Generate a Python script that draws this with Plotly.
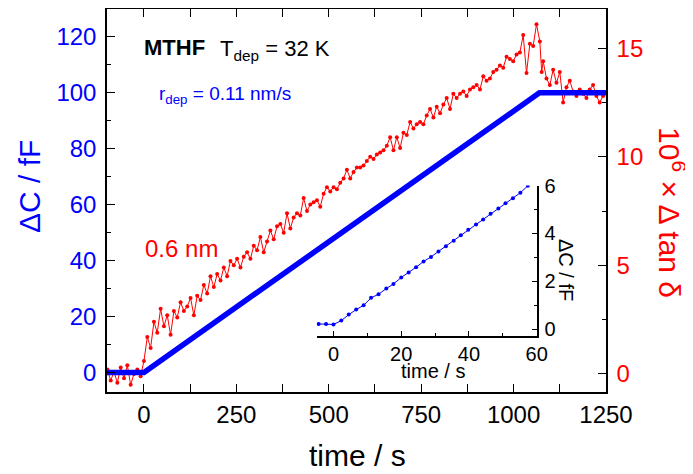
import plotly.graph_objects as go

# ---- main capacitance trace (fF) ----
cap_time = [-100, 0, 1070, 1250]
cap_dC = [0.0, 0.0, 100.0, 100.0]

# ---- dielectric loss trace (10^6 x delta tan delta) ----
loss_time = [
    -99, -90, -81, -72, -63, -54, -45, -36, -27, -18,
    -9, 0, 9, 18, 27, 36, 45, 54, 63, 72,
    81, 90, 99, 108, 117, 126, 135, 144, 153, 162,
    171, 180, 189, 198, 207, 216, 225, 234, 243, 252,
    261, 270, 279, 288, 297, 306, 315, 324, 333, 342,
    351, 360, 369, 378, 387, 396, 405, 414, 423, 432,
    441, 450, 459, 468, 477, 486, 495, 504, 513, 522,
    531, 540, 549, 558, 567, 576, 585, 594, 603, 612,
    621, 630, 639, 648, 657, 666, 675, 684, 693, 702,
    711, 720, 729, 738, 747, 756, 765, 774, 783, 792,
    801, 810, 819, 828, 837, 846, 855, 864, 873, 882,
    891, 900, 909, 918, 927, 936, 945, 954, 963, 972,
    981, 990, 999, 1008, 1017, 1026, 1035, 1044, 1053, 1062,
    1071, 1076, 1080, 1089, 1098, 1107, 1116, 1125, 1134, 1143,
    1152, 1161, 1170, 1179, 1188, 1197, 1206, 1215, 1224, 1233,
    1242,
]
loss_val = [
    0.2, -0.3, 0.1, -0.4, 0.3, -0.2, 0.4, -0.5, 0.0, 0.2,
    -0.1, 0.6, 1.7, 1.2, 2.4, 1.9, 3.0, 2.2, 2.7, 1.8,
    2.9, 2.6, 3.3, 2.9, 3.1, 3.5, 2.7, 3.6, 3.4, 4.1,
    3.7, 4.5, 4.0, 4.6, 4.3, 4.9, 4.5, 5.2, 5.0, 5.3,
    4.9, 5.4, 5.6, 5.3, 5.9, 5.7, 6.3, 5.6, 6.1, 6.6,
    6.2, 6.8, 6.9, 6.5, 7.4, 6.7, 7.2, 7.4, 7.3, 8.1,
    7.5, 7.8, 7.9, 8.0, 7.7, 8.3, 8.6, 8.4, 8.6, 8.5,
    8.8, 9.0, 9.4, 9.0, 9.3, 9.5, 9.5, 9.6, 9.8, 10.0,
    9.9, 10.1, 10.2, 10.3, 10.5, 10.9, 10.3, 10.9, 10.4, 11.1,
    11.0, 11.6, 11.3, 11.5, 11.6, 11.5, 11.9, 12.2, 11.8, 12.3,
    12.0, 12.4, 12.7, 12.2, 12.9, 12.7, 12.9, 13.0, 12.8, 13.1,
    13.2, 13.3, 13.1, 13.7, 13.5, 13.6, 13.9, 14.0, 14.2, 14.1,
    14.6, 14.5, 14.4, 14.7, 14.8, 15.6, 13.85, 15.2, 15.1, 16.1,
    15.3, 13.9, 14.4, 13.6, 13.3, 14.0, 13.4, 13.9, 12.5, 13.2,
    13.5, 13.0, 12.8, 13.1, 12.9, 12.7, 13.1, 13.3, 12.8, 12.5,
    12.8,
]

# ---- inset: first minute of deposition ----
inset_time = [-4.4, -2.2, 0.0, 2.3, 4.5, 6.7, 8.9, 11.1, 13.3, 15.6,
              17.7, 20.0, 22.2, 24.4, 26.6, 28.8, 31.0, 33.2, 35.5, 37.6,
              39.8, 42.1, 44.2, 46.4, 48.7, 50.8, 53.0, 55.2, 57.4]
inset_dC = [0.22, 0.22, 0.20, 0.36, 0.61, 0.82, 1.00, 1.31, 1.46, 1.70,
            1.89, 2.16, 2.37, 2.59, 2.83, 3.02, 3.25, 3.47, 3.70, 3.93,
            4.15, 4.37, 4.58, 4.82, 5.04, 5.26, 5.47, 5.70, 5.99]

FONT = "Arial, Liberation Sans, sans-serif"
BLUE = "#0000ff"
RED = "#ff0000"

# page body margin of the html page (8 px) is compensated here
OFF = 8
W, H = 693 - OFF, 474 - OFF
ML, MR, MT, MB = 107 - OFF, 87, 9 - OFF, 82

fig = go.Figure()

fig.add_trace(go.Scatter(
    x=loss_time, y=loss_val, xaxis="x", yaxis="y",
    mode="lines+markers", line=dict(color=RED, width=1),
    marker=dict(color=RED, size=4), showlegend=False))

fig.add_trace(go.Scatter(
    x=cap_time, y=cap_dC, xaxis="x", yaxis="y2",
    mode="lines", line=dict(color=BLUE, width=5.5), showlegend=False))

fig.add_trace(go.Scatter(
    x=inset_time, y=inset_dC, xaxis="x3", yaxis="y3",
    mode="lines+markers", line=dict(color=BLUE, width=1),
    marker=dict(color=BLUE, size=4), showlegend=False))

axis_common = dict(showline=True, linecolor="black", linewidth=1.5,
                   showgrid=False, zeroline=False, ticks="inside",
                   tickcolor="black", tickwidth=1.2, automargin=False)

fig.update_layout(
    width=W, height=H,
    margin=dict(l=ML, r=MR, t=MT, b=MB, autoexpand=False),
    paper_bgcolor="white", plot_bgcolor="rgba(0,0,0,0)",
    font=dict(family=FONT, color="black"),
    xaxis=dict(**axis_common, range=[-100, 1250], tick0=0, dtick=250,
               ticklen=8, mirror="allticks", anchor="y",
               minor=dict(ticks="inside", ticklen=4, dtick=125, tick0=0,
                          tickcolor="black"),
               tickfont=dict(size=24, color="black"), ticklabelstandoff=0),
    yaxis=dict(**axis_common, range=[-0.83, 16.8], tick0=0, dtick=5,
               ticklen=8, side="right", anchor="x",
               minor=dict(ticks="inside", ticklen=4, dtick=2.5, tick0=0,
                          tickcolor="black"),
               tickfont=dict(size=24, color=RED), ticklabelstandoff=4),
    yaxis2=dict(**axis_common, range=[-7, 130], tick0=0, dtick=20,
                ticklen=8, side="left", overlaying="y", anchor="x",
                minor=dict(ticks="inside", ticklen=4, dtick=10, tick0=0,
                           tickcolor="black"),
                tickfont=dict(size=24, color=BLUE), ticklabelstandoff=4),
    xaxis3=dict(**axis_common, domain=[0.42, 0.861], range=[-5, 60],
                tick0=0, dtick=20, ticklen=5, anchor="y3",
                minor=dict(ticks="inside", ticklen=3, dtick=10, tick0=0,
                           tickcolor="black"),
                tickfont=dict(size=20, color="black"), ticklabelstandoff=0),
    yaxis3=dict(**axis_common, domain=[0.147, 0.539], range=[-0.27, 6],
                tick0=0, dtick=2, ticklen=5, side="right", anchor="x3",
                minor=dict(ticks="inside", ticklen=3, dtick=1, tick0=0,
                           tickcolor="black"),
                tickfont=dict(size=20, color="black"), ticklabelstandoff=2),
)

# annotation positions given in reference-page pixels
ann = [
    dict(text="ΔC / fF", x=29, y=187, textangle=-90,
         font=dict(size=30, color=BLUE)),
    dict(text="10<sup>6</sup> × Δ tan δ", x=672, y=212, textangle=90,
         font=dict(size=30, color=RED)),
    dict(text="time / s", x=357, y=455, textangle=0,
         font=dict(size=30, color="black")),
    dict(text="time / s", x=433, y=371, textangle=0,
         font=dict(size=20, color="black")),
    dict(text="ΔC / fF", x=566, y=270, textangle=90,
         font=dict(size=20, color="black")),
    dict(text="<b>MTHF</b>", x=174, y=47, textangle=0,
         font=dict(size=22, color="black")),
    dict(text="T<sub>dep</sub> = 32 K", x=275, y=50, textangle=0,
         font=dict(size=22, color="black")),
    dict(text="r<sub>dep</sub> = 0.11 nm/s", x=225, y=95, textangle=0,
         font=dict(size=19, color=BLUE)),
    dict(text="0.6 nm", x=181, y=248, textangle=0,
         font=dict(size=24, color=RED)),
]
PW = W - ML - MR
PH = H - MT - MB
annotations = []
for a in ann:
    px, py = a.pop("x") - OFF, a.pop("y") - OFF
    annotations.append(dict(
        **a, xref="paper", yref="paper",
        x=(px - ML) / PW, y=(H - MB - py) / PH,
        xanchor="center", yanchor="middle", showarrow=False))
fig.update_layout(annotations=annotations)

fig.write_html("out.html")
